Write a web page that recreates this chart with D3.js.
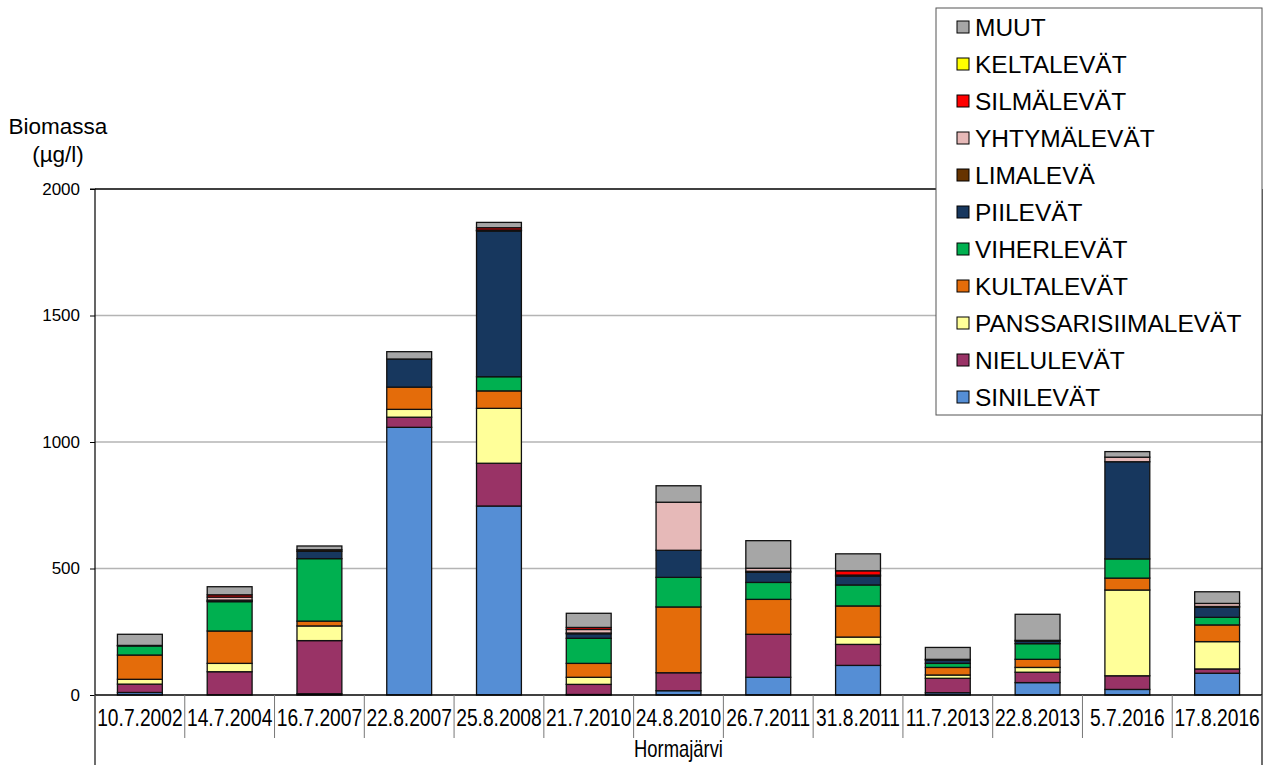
<!DOCTYPE html>
<html>
<head>
<meta charset="utf-8">
<script src="https://cdn.jsdelivr.net/npm/d3@7"></script>
<style>
  html, body { margin: 0; padding: 0; background: #fff; }
  svg { display: block; font-family: "Liberation Sans", Arial, sans-serif; }
</style>
</head>
<body>
<svg id="chart" width="1264" height="765"></svg>
<script>
// Sampling dates, Hormajärvi
const dates = ["10.7.2002", "14.7.2004", "16.7.2007", "22.8.2007", "25.8.2008", "21.7.2010",
  "24.8.2010", "26.7.2011", "31.8.2011", "11.7.2013", "22.8.2013", "5.7.2016", "17.8.2016"];

// Biomass by algal group (µg/l), one value per date, stacked bottom to top
const sinilevat    = [10, 0, 5, 1058, 747, 2, 17, 70, 117, 9, 49, 22, 86];
const nielulevat   = [33, 92, 210, 40, 169, 40, 71, 170, 83, 57, 41, 54, 17];
const panssari     = [19, 33, 58, 31, 217, 28, 0, 0, 29, 13, 19, 339, 108];
const kultalevat   = [96, 128, 19, 88, 69, 55, 260, 138, 123, 30, 32, 47, 66];
const viherlevat   = [36, 116, 247, 0, 56, 99, 117, 67, 83, 16, 62, 76, 30];
const piilevat     = [2, 3, 29, 111, 576, 18, 107, 40, 35, 13, 10, 384, 40];
const limaleva     = [0, 3, 6, 0, 2, 3, 0, 4, 4, 3, 3, 0, 3];
const yhtymalevat  = [0, 12, 0, 0, 2, 14, 190, 12, 0, 0, 0, 18, 12];
const silmalevat   = [0, 9, 0, 0, 9, 8, 0, 0, 17, 0, 0, 0, 0];
const keltalevat   = [0, 0, 0, 0, 0, 0, 0, 0, 0, 0, 0, 0, 0];
const muut         = [44, 32, 15, 29, 21, 56, 65, 109, 67, 47, 103, 22, 46];

const yTicks = [0, 500, 1000, 1500, 2000];

const seriesDefs = [
  { key: "SINILEVÄT", values: sinilevat, color: "#558ED5" },
  { key: "NIELULEVÄT", values: nielulevat, color: "#993366" },
  { key: "PANSSARISIIMALEVÄT", values: panssari, color: "#FFFF99" },
  { key: "KULTALEVÄT", values: kultalevat, color: "#E46C0A" },
  { key: "VIHERLEVÄT", values: viherlevat, color: "#00B050" },
  { key: "PIILEVÄT", values: piilevat, color: "#17375E" },
  { key: "LIMALEVÄ", values: limaleva, color: "#663300" },
  { key: "YHTYMÄLEVÄT", values: yhtymalevat, color: "#E6B9B8" },
  { key: "SILMÄLEVÄT", values: silmalevat, color: "#FF0000" },
  { key: "KELTALEVÄT", values: keltalevat, color: "#FFFF00" },
  { key: "MUUT", values: muut, color: "#A6A6A6" }
];

const rows = dates.map((d, i) => {
  const r = { date: d };
  seriesDefs.forEach(s => { r[s.key] = s.values[i]; });
  return r;
});

const svg = d3.select("#chart");
const plotLeft = 95, plotRight = 1262, plotTop = 189, plotBottom = 695;

const x = d3.scaleBand().domain(dates).range([plotLeft, plotRight]).paddingInner(0.5).paddingOuter(0.25);
const y = d3.scaleLinear().domain([0, 2000]).range([plotBottom, plotTop]);

// Horizontal gridlines
svg.append("g").selectAll("line").data(yTicks.filter(t => t > 0 && t < 2000)).join("line")
  .attr("x1", plotLeft).attr("x2", plotRight)
  .attr("y1", d => y(d)).attr("y2", d => y(d))
  .attr("stroke", "#b4b4b4").attr("stroke-width", 1.5);

// Stacked bars
const stack = d3.stack().keys(seriesDefs.map(s => s.key));
const layers = stack(rows);
const color = d3.scaleOrdinal().domain(seriesDefs.map(s => s.key)).range(seriesDefs.map(s => s.color));

svg.append("g").selectAll("g").data(layers).join("g")
  .attr("fill", d => color(d.key))
  .selectAll("rect").data(d => d.filter(p => p[1] - p[0] > 0)).join("rect")
  .attr("x", d => x(d.data.date))
  .attr("width", x.bandwidth())
  .attr("y", d => y(d[1]))
  .attr("height", d => y(d[0]) - y(d[1]))
  .attr("stroke", "#111")
  .attr("stroke-width", 1.3);

// Frame: top line and right edge
svg.append("line").attr("x1", plotLeft).attr("x2", plotRight).attr("y1", y(2000)).attr("y2", y(2000))
  .attr("stroke", "#000").attr("stroke-width", 1.5);
svg.append("line").attr("x1", plotRight).attr("x2", plotRight).attr("y1", y(2000)).attr("y2", 765)
  .attr("stroke", "#000").attr("stroke-width", 1.2);

// Y axis
const yAxis = svg.append("g").attr("transform", `translate(${plotLeft},0)`)
  .call(d3.axisLeft(y).tickValues(yTicks).tickSize(5).tickPadding(10).tickFormat(d3.format("d")));
yAxis.select(".domain").attr("stroke", "#000").attr("stroke-width", 1.2)
  .attr("d", `M-5,${plotTop}H0V765`);
yAxis.selectAll(".tick line").attr("stroke", "#000");
yAxis.selectAll(".tick text").attr("font-size", 17).attr("fill", "#000")
  .attr("font-family", "Liberation Sans, Arial, sans-serif");

// Baseline
svg.append("line").attr("x1", plotLeft).attr("x2", plotRight).attr("y1", plotBottom).attr("y2", plotBottom)
  .attr("stroke", "#000").attr("stroke-width", 1.5);

// Category separators and labels
const bounds = dates.map(d => x(d) - x.bandwidth() * 0.5).concat([plotRight]);
svg.append("g").selectAll("line").data(bounds).join("line")
  .attr("x1", d => d).attr("x2", d => d)
  .attr("y1", plotBottom)
  .attr("y2", (d, i) => (i === 0 || i === bounds.length - 1) ? 765 : 738)
  .attr("stroke", "#777").attr("stroke-width", 1);

svg.append("g").selectAll("text").data(dates).join("text")
  .attr("transform", d => `translate(${x(d) + x.bandwidth() / 2},726) scale(0.8,1)`)
  .attr("text-anchor", "middle")
  .attr("font-size", 24)
  .attr("fill", "#000")
  .text(d => d);

svg.append("text")
  .attr("transform", `translate(${(plotLeft + plotRight) / 2},757) scale(0.8,1)`)
  .attr("text-anchor", "middle").attr("font-size", 23).attr("fill", "#000")
  .text("Hormajärvi");

// Y axis title
svg.append("text").attr("x", 58).attr("y", 134).attr("text-anchor", "middle")
  .attr("font-size", 22.5).attr("fill", "#000").text("Biomassa");
svg.append("text").attr("x", 58).attr("y", 162).attr("text-anchor", "middle")
  .attr("font-size", 22.5).attr("fill", "#000").text("(µg/l)");

// Legend (top entry is the top of the stack)
const legendItems = seriesDefs.slice().reverse();
const lg = svg.append("g");
lg.append("rect").attr("x", 936).attr("y", 8).attr("width", 326).attr("height", 407)
  .attr("fill", "#fff").attr("stroke", "#555").attr("stroke-width", 1);
const ly = d3.scalePoint().domain(legendItems.map(d => d.key)).range([27, 397]);
const item = lg.selectAll("g.item").data(legendItems).join("g").attr("class", "item")
  .attr("transform", d => `translate(0,${ly(d.key)})`);
item.append("rect").attr("x", 957).attr("y", -6).attr("width", 12).attr("height", 12)
  .attr("fill", d => d.color).attr("stroke", "#000").attr("stroke-width", 1);
item.append("text").attr("x", 975).attr("y", 9).attr("font-size", 24.5).attr("fill", "#000")
  .text(d => d.key);
</script>
</body>
</html>
